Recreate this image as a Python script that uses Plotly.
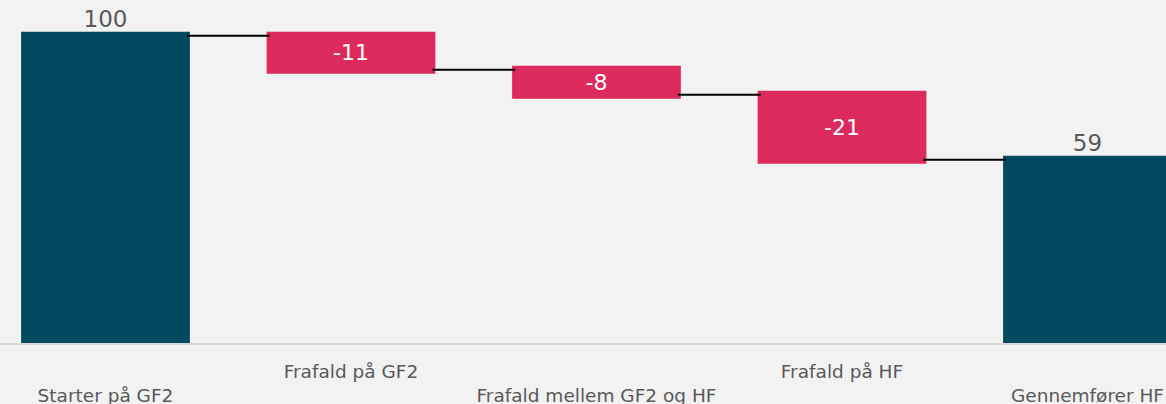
import plotly.graph_objects as go

categories = ["Starter på GF2", "Frafald på GF2", "Frafald mellem GF2 og HF", "Frafald på HF", "Gennemfører HF"]
measures = ["absolute", "relative", "relative", "relative", "total"]
values = [100, -11.1, -8.1, -21.2, 0]
value_labels = ["100", "-11", "-8", "-21", "59"]
# staggered tick labels: odd categories on upper row
tick_labels = ["<br>" + c if i % 2 == 0 else c for i, c in enumerate(categories)]

TEAL = "#004a5f"
PINK = "#dd2a5c"
GRAY_TXT = "#595959"
FONT = "Verdana, DejaVu Sans, sans-serif"

fig = go.Figure(go.Waterfall(
    x=categories,
    y=values,
    measure=measures,
    text=value_labels,
    textposition=["outside", "inside", "inside", "inside", "outside"],
    insidetextanchor="middle",
    textangle=0,
    insidetextfont=dict(color="white", size=22, family=FONT),
    outsidetextfont=dict(color=GRAY_TXT, size=23, family=FONT),
    textfont=dict(family=FONT),
    constraintext="none",
    cliponaxis=False,
    decreasing=dict(marker=dict(color=PINK, line=dict(color=PINK, width=6))),
    increasing=dict(marker=dict(color=TEAL, line=dict(color=TEAL, width=6))),
    totals=dict(marker=dict(color=TEAL, line=dict(color=TEAL, width=6))),
    connector=dict(line=dict(color="black", width=2), mode="between"),
    hoverinfo="skip",
))

fig.update_layout(
    width=1166, height=404,
    margin=dict(l=0, r=0, t=0, b=61),
    paper_bgcolor="#f2f2f2",
    plot_bgcolor="#f2f2f2",
    waterfallgap=0.337,
    showlegend=False,
    font=dict(family=FONT, color=GRAY_TXT),
)
fig.update_xaxes(
    range=[-0.4297, 4.3198],
    automargin=False,
    tickmode="array", tickvals=categories, ticktext=tick_labels,
    tickfont=dict(size=18.5, color=GRAY_TXT, family=FONT),
    showline=True, linecolor="#d9d9d9", linewidth=2,
    ticks="outside", ticklen=11, tickcolor="rgba(0,0,0,0)",
    showgrid=False, fixedrange=True,
)
fig.update_yaxes(
    range=[0, 111.6], automargin=False, visible=False, showgrid=False, zeroline=False, fixedrange=True,
)

fig.write_html(
    "out.html",
    config=dict(displayModeBar=False),
    post_script="document.body.style.margin='0px';document.body.style.background='#f2f2f2';",
)
